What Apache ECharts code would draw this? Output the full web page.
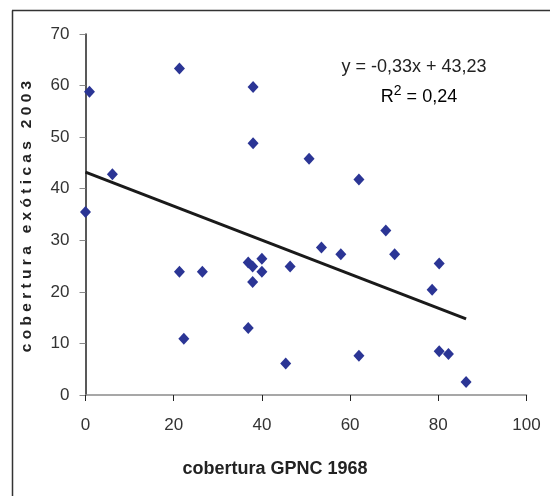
<!DOCTYPE html>
<html><head><meta charset="utf-8">
<script src="https://cdn.jsdelivr.net/npm/echarts@6/dist/echarts.min.js"></script>
<style>html,body{margin:0;padding:0;background:#fff}#c{width:550px;height:496px}</style>
</head><body><div id="c"></div>
<script>
const xValues = [0, 0.9, 6.1, 21.3, 38.0, 38.0, 50.7, 62.0, 68.1, 53.5, 57.9, 46.4, 40.0, 36.9, 37.9, 40.0, 37.9, 36.9, 45.4, 62.0, 26.5, 21.3, 22.3, 70.1, 80.2, 78.6, 80.2, 82.3, 86.3];
const yValues = [35.5, 58.8, 42.8, 63.3, 59.7, 48.8, 45.8, 41.8, 31.9, 28.6, 27.3, 24.9, 26.4, 25.7, 24.9, 23.9, 21.9, 13.0, 6.1, 7.6, 23.9, 23.9, 10.9, 27.3, 25.5, 20.4, 8.5, 7.95, 2.5];
const slope = -0.33;
const intercept = 43.23;
const r2Label = '0,24';
const eqLabel = 'y = -0,33x + 43,23';
const xTitle = 'cobertura GPNC 1968';
const yTitle = 'c o b e r t u r a   e x ó t i c a s   2 0 0 3';

const points = xValues.map((x, i) => [x, yValues[i]]);
const xMinData = 0, xMaxData = Math.max(...xValues);
const trend = [[xMinData, intercept + slope * xMinData], [xMaxData, intercept + slope * xMaxData]];

const chart = echarts.init(document.getElementById('c'));
const font = 'Liberation Sans, Arial, sans-serif';
chart.setOption({
  animation: false,
  textStyle: { fontFamily: font },
  grid: { left: 85.5, right: 23.5, top: 34, bottom: 101, containLabel: false },
  xAxis: {
    type: 'value', min: 0, max: 100, interval: 20,
    axisLine: { show: true, onZero: false, lineStyle: { color: '#8a8a8a', width: 1.5 } },
    axisTick: { show: true, inside: false, length: 6, lineStyle: { color: '#222', width: 1 } },
    axisLabel: { fontFamily: font, fontSize: 17, color: '#333', margin: 22 },
    splitLine: { show: false }
  },
  yAxis: {
    type: 'value', min: 0, max: 70, interval: 10,
    axisLine: { show: true, onZero: false, lineStyle: { color: '#222', width: 1.5 } },
    axisTick: { show: true, inside: false, length: 6, lineStyle: { color: '#8a8a8a', width: 1 } },
    axisLabel: { fontFamily: font, fontSize: 17, color: '#333', margin: 16 },
    splitLine: { show: false }
  },
  series: [
    {
      type: 'line', data: trend, symbol: 'none', silent: true,
      lineStyle: { color: '#1a1a1a', width: 3 }, z: 2
    },
    {
      type: 'scatter', data: points, symbol: 'diamond', symbolSize: [11, 12],
      itemStyle: { color: '#2B3595', opacity: 1 }, z: 3
    }
  ],
  graphic: [
    { type: 'line', shape: { x1: 12.5, y1: 10.5, x2: 12.5, y2: 496 }, style: { stroke: '#333', lineWidth: 1.5 } },
    { type: 'line', shape: { x1: 12, y1: 10.5, x2: 550, y2: 10.5 }, style: { stroke: '#333', lineWidth: 1.5 } },
    { type: 'text', x: 27, y: 216.5, rotation: Math.PI / 2, style: { text: yTitle, align: 'center', verticalAlign: 'middle', font: 'bold 15.5px ' + font, fill: '#222' } },
    { type: 'text', x: 275, y: 469, style: { text: xTitle, align: 'center', verticalAlign: 'middle', font: 'bold 18px ' + font, fill: '#222' } },
    { type: 'text', x: 414, y: 67, style: { text: eqLabel, align: 'center', verticalAlign: 'middle', font: '18px ' + font, fill: '#222' } },
    { type: 'text', x: 419, y: 95, style: {
        text: '{r|R}{s|2}{r| = ' + r2Label + '}', align: 'center', verticalAlign: 'middle',
        rich: { r: { fontSize: 18, fontFamily: font, color: '#222', verticalAlign: 'bottom', lineHeight: 22 }, s: { fontSize: 14, fontFamily: font, color: '#222', verticalAlign: 'top', lineHeight: 22, padding: [0, 0, 8, 0] } }
      } }
  ]
});
</script></body></html>
